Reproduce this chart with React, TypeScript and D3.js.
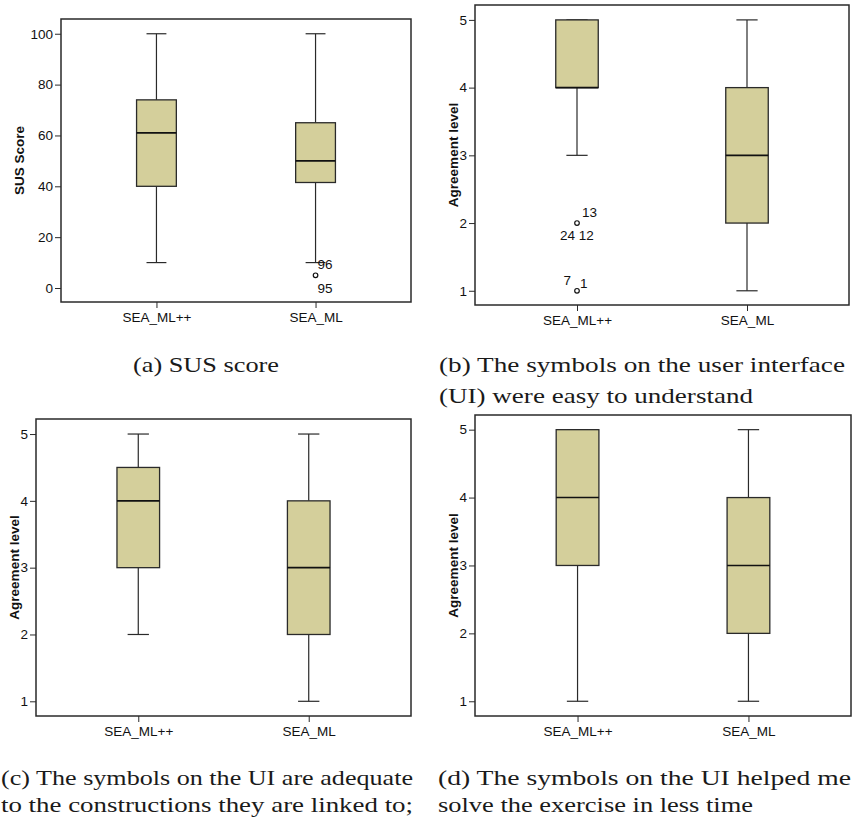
import { useEffect, useRef } from "react";
import * as d3 from "d3";

const groups = ["SEA_ML++", "SEA_ML"];

// [lower whisker, q1, median, q3, upper whisker] per group
const susStats = [
  [10, 40, 61, 74, 100],
  [10, 41.5, 50, 65, 100],
];
const easyStats = [
  [3, 4, 4, 5, 5],
  [1, 2, 3, 4, 5],
];
const adequateStats = [
  [2, 3, 4, 4.5, 5],
  [1, 2, 3, 4, 5],
];
const timeStats = [
  [1, 3, 4, 5, 5],
  [1, 2, 3, 4, 5],
];

// outliers: group, value, case ids
const susOutliers = [{ group: "SEA_ML", value: 5, ids: ["96", "95"] }];
const easyOutliers = [
  { group: "SEA_ML++", value: 2, ids: ["13", "24 12"] },
  { group: "SEA_ML++", value: 1, ids: ["7", "1"] },
];

const susTicks = [0, 20, 40, 60, 80, 100];
const likertTicks = [1, 2, 3, 4, 5];

// where the case ids sit around their point
const idPlacement: Record<string, { dx: number; dy: number; anchor: string }> = {
  "96": { dx: 2, dy: -6, anchor: "start" },
  "95": { dx: 2, dy: 18, anchor: "start" },
  "13": { dx: 5, dy: -6, anchor: "start" },
  "24 12": { dx: 0, dy: 17, anchor: "middle" },
  "7": { dx: -6, dy: -6, anchor: "end" },
  "1": { dx: 3, dy: -3, anchor: "start" },
};

const panels = [
  { stats: susStats, outliers: susOutliers, ticks: susTicks, domain: [-5.5, 105.8], yLabel: "SUS Score",
    x0: 61, x1: 411, y0: 19, y1: 302, labelGap: 42 },
  { stats: easyStats, outliers: easyOutliers, ticks: likertTicks, domain: [0.79, 5.22], yLabel: "Agreement level",
    x0: 475, x1: 849, y0: 5, y1: 305, labelGap: 21.5 },
  { stats: adequateStats, outliers: [], ticks: likertTicks, domain: [0.78, 5.225], yLabel: "Agreement level",
    x0: 36, x1: 411, y0: 419, y1: 716, labelGap: 22 },
  { stats: timeStats, outliers: [], ticks: likertTicks, domain: [0.783, 5.216], yLabel: "Agreement level",
    x0: 475, x1: 851, y0: 415, y1: 716, labelGap: 21.5 },
];

const captions = [
  { text: "(a) SUS score", x: 133, w: 146, y: 372 },
  { text: "(b) The symbols on the user interface", x: 439, w: 406, y: 372 },
  { text: "(UI) were easy to understand", x: 439, w: 314, y: 403 },
  { text: "(c) The symbols on the UI are adequate", x: 1, w: 412, y: 785 },
  { text: "to the constructions they are linked to;", x: 1, w: 412, y: 812 },
  { text: "(d) The symbols on the UI helped me", x: 438, w: 413, y: 785 },
  { text: "solve the exercise in less time", x: 438, w: 315, y: 812 },
];

const boxFill = "#d4cf9b";
const ink = "#2a2a2a";

export default function App() {
  const svgRef = useRef<SVGSVGElement>(null);

  useEffect(() => {
    const svg = d3.select(svgRef.current);
    svg.selectAll("*").remove();

    panels.forEach((p) => {
      const x = d3.scalePoint().domain(groups).range([p.x0, p.x1]).padding(0.6);
      const y = d3.scaleLinear().domain(p.domain).range([p.y1, p.y0]);
      const boxW = x.step() * 0.25;
      const g = svg.append("g");

      // y axis
      const yAxis = g.append("g")
        .attr("transform", `translate(${p.x0},0)`)
        .call(d3.axisLeft(y).tickValues(p.ticks).tickSize(6).tickPadding(2).tickFormat(d3.format("d")));
      yAxis.select(".domain").remove();
      yAxis.selectAll("line").attr("stroke", ink);
      yAxis.selectAll("text").attr("font-family", "Liberation Sans, Arial, sans-serif")
        .attr("font-size", 13.5).attr("fill", "#111");

      // x axis
      const xAxis = g.append("g")
        .attr("transform", `translate(0,${p.y1})`)
        .call(d3.axisBottom(x).tickSize(6).tickPadding(4));
      xAxis.select(".domain").remove();
      xAxis.selectAll("line").attr("stroke", ink);
      xAxis.selectAll("text").attr("font-family", "Liberation Sans, Arial, sans-serif")
        .attr("font-size", 13.5).attr("fill", "#111");

      // frame
      g.append("rect")
        .attr("x", p.x0).attr("y", p.y0)
        .attr("width", p.x1 - p.x0).attr("height", p.y1 - p.y0)
        .attr("fill", "none").attr("stroke", ink).attr("stroke-width", 1.5);

      // y label
      g.append("text")
        .attr("transform", `translate(${p.x0 - p.labelGap},${(p.y0 + p.y1) / 2}) rotate(-90)`)
        .attr("text-anchor", "middle").attr("dy", "0.35em")
        .attr("font-family", "Liberation Sans, Arial, sans-serif")
        .attr("font-weight", "bold").attr("font-size", 13.5).attr("fill", "#111")
        .text(p.yLabel);

      // boxes
      p.stats.forEach((s, i) => {
        const cx = x(groups[i])!;
        const [lo, q1, med, q3, hi] = s;
        const bg = g.append("g");
        bg.append("line").attr("x1", cx).attr("x2", cx).attr("y1", y(hi)).attr("y2", y(q3))
          .attr("stroke", ink).attr("stroke-width", 1.2);
        bg.append("line").attr("x1", cx).attr("x2", cx).attr("y1", y(q1)).attr("y2", y(lo))
          .attr("stroke", ink).attr("stroke-width", 1.2);
        [lo, hi].forEach((v) => {
          bg.append("line").attr("x1", cx - boxW / 4).attr("x2", cx + boxW / 4)
            .attr("y1", y(v)).attr("y2", y(v)).attr("stroke", ink).attr("stroke-width", 1.2);
        });
        bg.append("rect")
          .attr("x", cx - boxW / 2).attr("y", y(q3))
          .attr("width", boxW).attr("height", y(q1) - y(q3))
          .attr("fill", boxFill).attr("stroke", ink).attr("stroke-width", 1.3);
        bg.append("line").attr("x1", cx - boxW / 2).attr("x2", cx + boxW / 2)
          .attr("y1", y(med)).attr("y2", y(med)).attr("stroke", "#111").attr("stroke-width", 1.6);
      });

      // outliers
      p.outliers.forEach((o) => {
        const cx = x(o.group)!;
        const cy = y(o.value);
        g.append("circle").attr("cx", cx).attr("cy", cy).attr("r", 2.3)
          .attr("fill", "#fff").attr("stroke", "#111").attr("stroke-width", 1.2);
        o.ids.forEach((id) => {
          const pl = idPlacement[id];
          g.append("text")
            .attr("x", cx + pl.dx).attr("y", cy + pl.dy)
            .attr("text-anchor", pl.anchor)
            .attr("font-family", "Liberation Sans, Arial, sans-serif")
            .attr("font-size", 13.5).attr("fill", "#111")
            .text(id);
        });
      });
    });

    // captions
    svg.append("g").selectAll("text").data(captions).join("text")
      .attr("x", (d) => d.x).attr("y", (d) => d.y)
      .attr("textLength", (d) => d.w).attr("lengthAdjust", "spacingAndGlyphs")
      .attr("font-family", "Liberation Serif, Times New Roman, serif")
      .attr("font-size", 21).attr("fill", "#1a1a1a")
      .text((d) => d.text);
  }, []);

  return (
    <svg ref={svgRef} width={855} height={821}
      style={{ position: "absolute", left: 0, top: 0, background: "#fff" }} />
  );
}
